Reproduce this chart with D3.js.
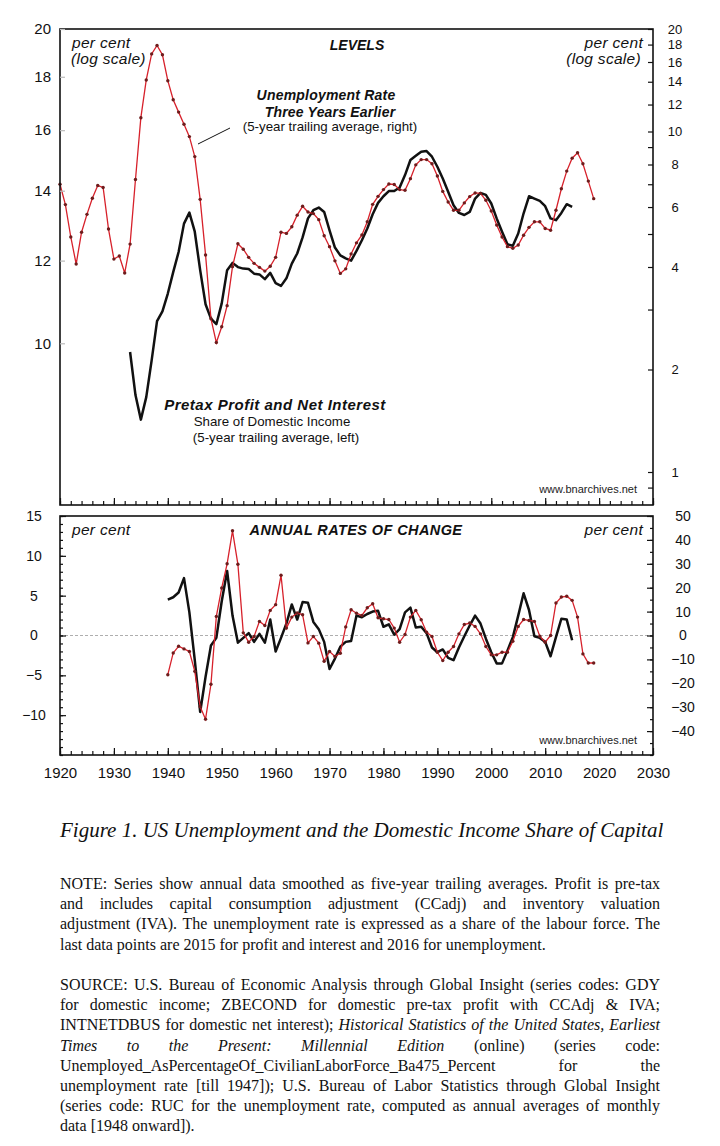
<!DOCTYPE html>
<html>
<head>
<meta charset="utf-8">
<script src="https://cdn.jsdelivr.net/npm/d3@7"></script>
<style>
    body { margin: 0; background: #fff; width: 720px; height: 1146px; position: relative; overflow: hidden; }
    svg { position: absolute; left: 0; top: 0; }
    .para { position: absolute; left: 60px; width: 600px; font-family: "Liberation Serif", "Times New Roman", serif;
            font-size: 16px; line-height: 20.2px; color: #111; }
    .para div { white-space: nowrap; }
</style>
</head>
<body>
<svg id="chart" width="720" height="800"></svg>
<div class="para" id="note" style="top:874px"></div>
<div class="para" id="source" style="top:975px"></div>
<script>
// Years axis
const xTicksMajor = [1920, 1930, 1940, 1950, 1960, 1970, 1980, 1990, 2000, 2010, 2020, 2030];

// Levels, log scales
const leftLevelTicks = [10, 12, 14, 16, 18, 20];
const rightLevelTicks = [0.9, 1, 2, 3, 4, 5, 6, 7, 8, 9, 10, 12, 14, 16, 18, 20];
const rightLevelLabels = [1, 2, 4, 6, 8, 10, 12, 14, 16, 18, 20];

// Unemployment rate three years earlier, 5-yr trailing avg (right axis), 1920-2019
const unempStart = 1920;
const unempLevel = [
    7.0, 6.1, 4.9, 4.08, 5.06, 5.71, 6.37, 6.94, 6.85, 5.17,
    4.22, 4.31, 3.84, 4.67, 7.23, 10.98, 14.17, 16.9, 17.9, 16.8,
    14.1, 12.4, 11.4, 10.5, 9.66, 8.44, 6.32, 4.34, 2.82, 2.40,
    2.67, 3.08, 4.01, 4.68, 4.51, 4.27, 4.10, 3.99, 3.89, 4.02,
    4.27, 5.06, 5.02, 5.25, 5.68, 6.03, 5.80, 5.74, 5.51, 4.94,
    4.59, 4.17, 3.83, 3.95, 4.37, 4.71, 4.97, 5.43, 6.11, 6.45,
    6.75, 7.01, 6.99, 6.75, 6.72, 7.27, 7.98, 8.27, 8.27, 8.04,
    7.40, 6.67, 6.21, 5.87, 5.87, 6.17, 6.44, 6.60, 6.58, 6.28,
    5.84, 5.31, 4.90, 4.59, 4.54, 4.64, 4.96, 5.23, 5.43, 5.43,
    5.19, 5.13, 5.87, 6.79, 7.65, 8.35, 8.66, 8.04, 7.15, 6.35
];

// Pretax profit and net interest, share of domestic income (left axis), 1933-2015
const profitStart = 1933;
const profitLevel = [
    9.81, 8.92, 8.45, 8.88, 9.63, 10.50, 10.73,
    11.16, 11.70, 12.23, 13.02, 13.34, 12.79, 11.75, 10.90, 10.56, 10.43,
    10.92, 11.75, 11.94, 11.83, 11.79, 11.78, 11.66, 11.64, 11.52, 11.68,
    11.42, 11.35, 11.54, 11.92, 12.19, 12.63, 13.17, 13.41, 13.49, 13.36,
    12.83, 12.35, 12.14, 12.06, 12.00, 12.26, 12.55, 12.88, 13.29, 13.63,
    13.83, 13.99, 13.99, 14.10, 14.49, 14.98, 15.12, 15.26, 15.28, 15.09,
    14.76, 14.38, 13.97, 13.56, 13.33, 13.27, 13.36, 13.76, 13.93, 13.87,
    13.61, 13.17, 12.79, 12.44, 12.40, 12.74, 13.32, 13.83, 13.76, 13.69,
    13.53, 13.17, 13.12, 13.33, 13.59, 13.51
];

// Annual rates of change
const leftChangeLabels = [15, 10, 5, 0, -5, -10];
const rightChangeLabels = [50, 40, 30, 20, 10, 0, -10, -20, -30, -40];

// Unemployment, annual % change (right axis), 1940-2019
const unempChangeStart = 1940;
const unempChange = [
    -16.4, -7.3, -4.5, -5.6, -6.7, -15.0, -29.8, -35.0, -20.4, 8.0,
    19.9, 30.0, 43.8, 29.8, 1.1, -2.8, -0.4, 5.9, 4.2, 10.5,
    12.9, 25.2, 3.1, 7.7, 9.4, 8.7, -3.1, -0.4, -3.2, -10.8,
    -6.7, -8.8, -7.4, 3.6, 10.8, 9.3, 8.4, 11.6, 13.3, 7.4,
    7.0, 6.7, 3.1, -2.8, 0.4, 7.7, 10.5, 6.6, 1.4, -0.4,
    -7.0, -10.5, -7.0, -4.6, 0.7, 4.6, 5.2, 3.8, 0.7, -4.6,
    -8.1, -8.1, -7.0, -7.0, -2.4, 3.8, 6.7, 6.3, 5.9, -0.3,
    -2.8, 0.0, 13.6, 16.1, 16.4, 14.7, 7.7, -7.7, -11.5, -11.5
];

// Profit share, annual % change (left axis), 1940-2015
const profitChangeStart = 1940;
const profitChange = [
    4.5, 4.8, 5.4, 7.2, 2.9, -3.1, -9.6, -5.2, -1.25, -0.3,
    4.3, 8.1, 2.5, -0.9, -0.3, 0.3, -0.8, 0.2, -0.9, 2.0,
    -2.0, -0.3, 1.5, 3.9, 2.0, 4.2, 4.1, 1.7, 0.8, -0.8,
    -4.2, -2.9, -1.4, -0.8, -0.7, 2.5, 2.3, 2.7, 3.0, 3.1,
    1.1, 1.4, 0.1, 0.8, 2.9, 3.5, 1.0, 1.1, 0.3, -1.5,
    -2.1, -1.75, -2.8, -3.1, -1.5, -0.1, 1.25, 2.5, 1.5, -0.4,
    -2.1, -3.5, -3.5, -1.9, -0.2, 2.5, 5.3, 3.2, -0.1, -0.3,
    -0.8, -2.6, -0.2, 2.1, 2.0, -0.6
];

const noteLines = [
    "NOTE: Series show annual data smoothed as five-year trailing averages. Profit is pre-tax",
    "and includes capital consumption adjustment (CCadj) and inventory valuation",
    "adjustment (IVA). The unemployment rate is expressed as a share of the labour force. The",
    "last data points are 2015 for profit and interest and 2016 for unemployment."
];
const sourceLines = [
    "SOURCE: U.S. Bureau of Economic Analysis through Global Insight (series codes: GDY",
    "for domestic income; ZBECOND for domestic pre-tax profit with CCAdj &amp; IVA;",
    "INTNETDBUS for domestic net interest); <i>Historical Statistics of the United States, Earliest</i>",
    "<i>Times to the Present: Millennial Edition</i> (online) (series code:",
    "Unemployed_AsPercentageOf_CivilianLaborForce_Ba475_Percent for the",
    "unemployment rate [till 1947]); U.S. Bureau of Labor Statistics through Global Insight",
    "(series code: RUC for the unemployment rate, computed as annual averages of monthly",
    "data [1948 onward])."
];

const sans = '"Liberation Sans", Arial, Helvetica, sans-serif';
const RED = "#d7212b";
const DOT = "#6e1c1c";

const left = 60, right = 653;
const top1 = 29, bottom1 = 505;
const top2 = 516, bottom2 = 755;

const svg = d3.select("#chart");

const x = d3.scaleLinear().domain([1920, 2030]).range([left, right]);
const yL = d3.scaleLog().domain([7, 20]).range([bottom1, top1]);
const yR = d3.scaleLog().domain([0.8, 20]).range([bottom1, top1]);
const yBL = d3.scaleLinear().domain([-15, 15]).range([bottom2, top2]);
const yBR = d3.scaleLinear().domain([-50, 50]).range([bottom2, top2]);

const series = (start, vals) => vals.map((v, i) => ({ year: start + i, v }));
const minus = d => d < 0 ? "\u2212" + (-d) : d;

function drawBlack(data, yScale) {
    svg.append("path")
        .datum(data)
        .attr("fill", "none")
        .attr("stroke", "#111")
        .attr("stroke-width", 2.5)
        .attr("stroke-linejoin", "round")
        .attr("d", d3.line().x(d => x(d.year)).y(d => yScale(d.v)));
}

function drawRed(data, yScale) {
    svg.append("path")
        .datum(data)
        .attr("fill", "none")
        .attr("stroke", RED)
        .attr("stroke-width", 1.3)
        .attr("d", d3.line().x(d => x(d.year)).y(d => yScale(d.v)));
    svg.append("g").selectAll("circle")
        .data(data)
        .enter()
        .append("circle")
        .attr("cx", d => x(d.year))
        .attr("cy", d => yScale(d.v))
        .attr("r", 1.7)
        .attr("fill", DOT);
}

function cleanAxis(g, fontSize, tickColor) {
    g.select(".domain").remove();
    g.selectAll("text").style("font-family", sans).style("font-size", fontSize + "px").attr("fill", "#111");
    g.selectAll("line").attr("stroke", tickColor || "#111").attr("stroke-width", 1.2);
}

// zero line of the lower panel
svg.append("line")
    .attr("x1", left).attr("x2", right)
    .attr("y1", yBL(0)).attr("y2", yBL(0))
    .attr("stroke", "#999")
    .attr("stroke-width", 0.8)
    .attr("stroke-dasharray", "3,2");

// Series
drawBlack(series(profitStart, profitLevel), yL);
drawRed(series(unempStart, unempLevel), yR);
drawBlack(series(profitChangeStart, profitChange), yBL);
drawRed(series(unempChangeStart, unempChange), yBR);

// Frames
[[top1, bottom1], [top2, bottom2]].forEach(([t, b]) => {
    svg.append("rect")
        .attr("x", left).attr("y", t)
        .attr("width", right - left).attr("height", b - t)
        .attr("fill", "none")
        .attr("stroke", "#111")
        .attr("stroke-width", 1.6);
});

// X ticks (inward, bottom edges)
const minorYears = d3.range(1920, 2031, 2);
[bottom1, bottom2].forEach((b, i) => {
    const gMinor = svg.append("g")
        .attr("transform", `translate(0,${b})`)
        .call(d3.axisBottom(x).tickValues(minorYears).tickSize(-4).tickFormat(""));
    cleanAxis(gMinor, 15);
    const gMajor = svg.append("g")
        .attr("transform", `translate(0,${b})`)
        .call(d3.axisBottom(x).tickValues(xTicksMajor).tickSize(-7).tickPadding(12)
            .tickFormat(i === 1 ? d3.format("d") : ""));
    cleanAxis(gMajor, 15);
});

// Top left axis
const gTL = svg.append("g")
    .attr("transform", `translate(${left},0)`)
    .call(d3.axisLeft(yL).tickValues(leftLevelTicks).tickSize(-5).tickPadding(9).tickFormat(d3.format("d")));
cleanAxis(gTL, 15, "#bbb");

// Top right axis
const gTR = svg.append("g")
    .attr("transform", `translate(${right},0)`)
    .call(d3.axisRight(yR).tickValues(rightLevelTicks).tickSize(-5).tickPadding(22)
        .tickFormat(d => rightLevelLabels.includes(d) ? d : ""));
cleanAxis(gTR, 13);
gTR.selectAll("text").attr("text-anchor", "middle");

// Bottom left axis
const gBLm = svg.append("g")
    .attr("transform", `translate(${left},0)`)
    .call(d3.axisLeft(yBL).tickValues(d3.range(-15, 16, 1)).tickSize(-3).tickFormat(""));
cleanAxis(gBLm, 14);
const gBL = svg.append("g")
    .attr("transform", `translate(${left},0)`)
    .call(d3.axisLeft(yBL).tickValues(leftChangeLabels).tickSize(-6).tickPadding(26).tickFormat(minus));
cleanAxis(gBL, 14);
gBL.selectAll("text").attr("text-anchor", "middle");

// Bottom right axis
const gBRm = svg.append("g")
    .attr("transform", `translate(${right},0)`)
    .call(d3.axisRight(yBR).tickValues(d3.range(-50, 51, 5)).tickSize(-3).tickFormat(""));
cleanAxis(gBRm, 14);
const gBR = svg.append("g")
    .attr("transform", `translate(${right},0)`)
    .call(d3.axisRight(yBR).tickValues(rightChangeLabels).tickSize(-6).tickPadding(30).tickFormat(minus));
cleanAxis(gBR, 14);
gBR.selectAll("text").attr("text-anchor", "middle");

// Text labels
function label(txt, xPos, yPos, opts = {}) {
    svg.append("text")
        .attr("x", xPos).attr("y", yPos)
        .attr("text-anchor", opts.anchor || "start")
        .style("font-family", sans)
        .style("font-size", (opts.size || 14) + "px")
        .style("font-weight", opts.bold ? "bold" : "normal")
        .style("font-style", opts.italic ? "italic" : "normal")
        .style("letter-spacing", (opts.ls || 0) + "px")
        .attr("fill", opts.color || "#111")
        .text(txt);
}

label("per cent", 72, 48, { italic: true, size: 15.5, ls: 0.3 });
label("(log scale)", 71, 64, { italic: true, size: 15.5, ls: 0.3 });
label("per cent", 643, 48, { italic: true, size: 15.5, ls: 0.3, anchor: "end" });
label("(log scale)", 641, 64, { italic: true, size: 15.5, ls: 0.3, anchor: "end" });
label("LEVELS", 357, 50, { bold: true, italic: true, size: 14, anchor: "middle" });

label("Unemployment Rate", 326, 100, { bold: true, italic: true, size: 14, anchor: "middle", ls: 0.2 });
label("Three Years Earlier", 330, 117, { bold: true, italic: true, size: 14, anchor: "middle", ls: 0.2 });
label("(5-year trailing average, right)", 330, 131, { size: 13.3, anchor: "middle" });
svg.append("line")
    .attr("x1", 198).attr("y1", 144).attr("x2", 230).attr("y2", 128)
    .attr("stroke", "#111").attr("stroke-width", 1);

label("Pretax Profit and Net Interest", 275, 410, { bold: true, italic: true, size: 15, anchor: "middle", ls: 0.5 });
label("Share of Domestic Income", 272, 426, { size: 13.3, anchor: "middle" });
label("(5-year trailing average, left)", 276, 442, { size: 13.3, anchor: "middle" });
label("www.bnarchives.net", 637, 493, { size: 11, anchor: "end", color: "#222" });

label("per cent", 72, 535, { italic: true, size: 15.5, ls: 0.3 });
label("ANNUAL RATES OF CHANGE", 356, 535, { bold: true, italic: true, size: 14.5, anchor: "middle", ls: 0.4 });
label("per cent", 643, 535, { italic: true, size: 15.5, ls: 0.3, anchor: "end" });
label("www.bnarchives.net", 637, 744, { size: 11, anchor: "end", color: "#222" });

// Caption
svg.append("text")
    .attr("x", 60).attr("y", 837)
    .style("font-family", '"Liberation Serif", "Times New Roman", serif')
    .style("font-size", "21px")
    .style("font-style", "italic")
    .attr("fill", "#111")
    .text("Figure 1. US Unemployment and the Domestic Income Share of Capital");
svg.attr("height", 860);

// Justified paragraphs
function fillPara(id, lines) {
    const box = document.getElementById(id);
    lines.forEach((html, i) => {
        const div = document.createElement("div");
        const span = document.createElement("span");
        span.innerHTML = html;
        div.appendChild(span);
        box.appendChild(div);
        if (i < lines.length - 1) {
            const w = span.getBoundingClientRect().width;
            const spaces = (span.textContent.match(/ /g) || []).length;
            if (spaces > 0) span.style.wordSpacing = ((600 - w) / spaces) + "px";
        }
    });
}
fillPara("note", noteLines);
fillPara("source", sourceLines);
</script>
</body>
</html>
